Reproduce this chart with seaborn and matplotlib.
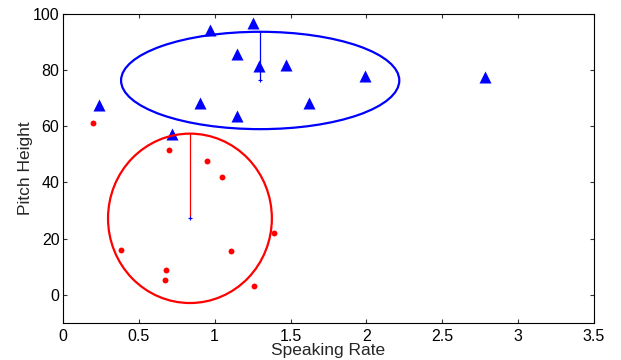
import numpy as np
import pandas as pd
import seaborn as sns
import matplotlib
matplotlib.use("Agg")
import matplotlib.pyplot as plt
from matplotlib.patches import Ellipse

# === Données ===
blue_rate = [0.24, 0.97, 1.25, 1.15, 1.29, 1.47, 0.90, 1.15, 1.62, 1.99, 2.78, 0.72]
blue_pitch = [67.5, 94.0, 96.8, 85.5, 81.2, 81.8, 68.3, 63.5, 68.3, 77.8, 77.5, 57.0]

red_rate = [0.20, 0.70, 0.95, 1.05, 1.39, 0.38, 1.11, 0.68, 0.67, 1.26]
red_pitch = [61.0, 51.5, 47.4, 42.0, 22.0, 15.9, 15.5, 9.0, 5.2, 3.3]

# ellipses (centre x, centre y, demi-largeur, demi-hauteur)
blue_ell = (1.30, 76.2, 0.917, 17.3)
red_ell = (0.837, 27.2, 0.54, 30.1)

x_ticks = [0, 0.5, 1, 1.5, 2, 2.5, 3, 3.5]
x_tick_labels = ["0", "0.5", "1", "1.5", "2", "2.5", "3", "3.5"]
y_ticks = [0, 20, 40, 60, 80, 100]

df = pd.DataFrame({
    "rate": blue_rate + red_rate,
    "pitch": blue_pitch + red_pitch,
    "group": ["b"] * len(blue_rate) + ["r"] * len(red_rate),
})

# === Figure ===
sns.set_style("ticks")
plt.rcParams["font.family"] = ["Liberation Sans", "DejaVu Sans"]

fig = plt.figure(figsize=(6.21, 3.6), dpi=100)
ax = fig.add_axes([0.1014, 0.1028, 0.855, 0.8597])

sns.scatterplot(data=df[df.group == "b"], x="rate", y="pitch", marker="^",
                color="#0000ff", s=75, linewidth=0, ax=ax, legend=False)
sns.scatterplot(data=df[df.group == "r"], x="rate", y="pitch", marker="o",
                color="#ff0000", s=18, linewidth=0, ax=ax, legend=False)

for (cx, cy, rx, ry), col in [(blue_ell, "#0000ff"), (red_ell, "#ff0000")]:
    ax.add_patch(Ellipse((cx, cy), 2 * rx, 2 * ry, fill=False,
                         edgecolor=col, linewidth=1.6))
    ax.plot([cx, cx], [cy, cy + ry], color=col, linewidth=0.9)
    ax.plot([cx], [cy], marker="+", color="#0000ff", markersize=3, markeredgewidth=0.8)

ax.set_xlim(0, 3.5)
ax.set_ylim(-10, 100)
ax.set_xticks(x_ticks)
ax.set_xticklabels(x_tick_labels)
ax.set_yticks(y_ticks)
ax.tick_params(direction="in", length=3, width=0.8, top=True, right=True,
               labelsize=11.5, colors="#333333", labelcolor="black")
ax.tick_params(axis="x", pad=4)
ax.tick_params(axis="y", pad=2.5)
for sp in ax.spines.values():
    sp.set_linewidth(0.8)
    sp.set_color("black")

ax.set_xlabel("Speaking Rate", fontsize=12.5, labelpad=-0.5)
ax.set_ylabel("Pitch Height", fontsize=12.5, labelpad=0)

fig.savefig("out.png", dpi=100)
